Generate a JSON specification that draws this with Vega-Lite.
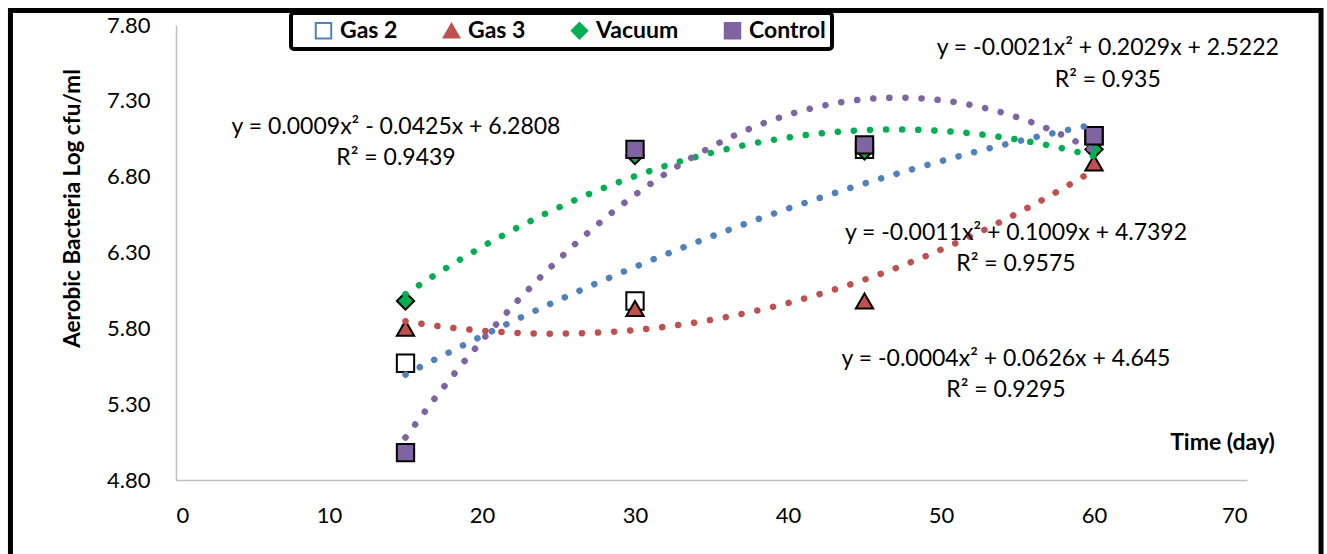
{
  "$schema": "https://vega.github.io/schema/vega-lite/v6.json",
  "width": 1071,
  "height": 455,
  "autosize": {"type": "none"},
  "padding": {"left": 176, "top": 25, "right": 80, "bottom": 74},
  "background": "white",
  "config": {
    "font": "Lato",
    "view": {"stroke": null},
    "mark": {"color": "black"},
    "axis": {"grid": false, "ticks": false, "tickSize": 0, "domainColor": "#BFBFBF", "domainWidth": 1.5, "labelFontSize": 22, "labelColor": "#000000", "titleColor": "#000000", "titleFontWeight": "bold", "titleFontSize": 22.5, "labelFont": "Lato", "titleFont": "Lato"},
    "legend": {"strokeWidth": 4, "strokeColor": "black", "cornerRadius": 3, "padding": 6, "fillColor": "white", "symbolStrokeColor": "black", "symbolStrokeWidth": 2}
  },
  "datasets": {
    "obs": [
      {"day": 15, "value": 5.57, "series": "Gas 2"},
      {"day": 30, "value": 5.98, "series": "Gas 2"},
      {"day": 45, "value": 6.98, "series": "Gas 2"},
      {"day": 60, "value": 7.07, "series": "Gas 2"},
      {"day": 15, "value": 5.80, "series": "Gas 3"},
      {"day": 30, "value": 5.93, "series": "Gas 3"},
      {"day": 45, "value": 5.98, "series": "Gas 3"},
      {"day": 60, "value": 6.89, "series": "Gas 3"},
      {"day": 15, "value": 5.98, "series": "Vacuum"},
      {"day": 30, "value": 6.94, "series": "Vacuum"},
      {"day": 45, "value": 6.97, "series": "Vacuum"},
      {"day": 60, "value": 6.98, "series": "Vacuum"},
      {"day": 15, "value": 4.98, "series": "Control"},
      {"day": 30, "value": 6.98, "series": "Control"},
      {"day": 45, "value": 7.01, "series": "Control"},
      {"day": 60, "value": 7.07, "series": "Control"}
    ],
    "trend": [
      {"day": 15, "value": 5.57, "group": "Gas 2"},
      {"day": 30, "value": 5.98, "group": "Gas 2"},
      {"day": 45, "value": 6.98, "group": "Gas 2"},
      {"day": 60, "value": 7.07, "group": "Gas 2"},
      {"day": 15, "value": 5.80, "group": "Gas 3"},
      {"day": 30, "value": 5.93, "group": "Gas 3"},
      {"day": 45, "value": 5.98, "group": "Gas 3"},
      {"day": 60, "value": 6.89, "group": "Gas 3"},
      {"day": 15, "value": 5.98, "group": "Vacuum"},
      {"day": 30, "value": 6.94, "group": "Vacuum"},
      {"day": 45, "value": 6.97, "group": "Vacuum"},
      {"day": 60, "value": 6.98, "group": "Vacuum"},
      {"day": 15, "value": 4.98, "group": "Control"},
      {"day": 30, "value": 6.98, "group": "Control"},
      {"day": 45, "value": 7.01, "group": "Control"},
      {"day": 60, "value": 7.07, "group": "Control"}
    ],
    "notes": [
      {"x": 14.38, "y": 7.127, "text": "y = 0.0009x² - 0.0425x + 6.2808"},
      {"x": 14.38, "y": 6.923, "text": "R² = 0.9439"},
      {"x": 60.9, "y": 7.648, "text": "y = -0.0021x² + 0.2029x + 2.5222"},
      {"x": 60.9, "y": 7.437, "text": "R² = 0.935"},
      {"x": 54.9, "y": 6.429, "text": "y = -0.0011x² + 0.1009x + 4.7392"},
      {"x": 54.9, "y": 6.224, "text": "R² = 0.9575"},
      {"x": 54.25, "y": 5.598, "text": "y = -0.0004x² + 0.0626x + 4.645"},
      {"x": 54.25, "y": 5.393, "text": "R² = 0.9295"}
    ]
  },
  "layer": [
    {
      "data": {"values": [{}]},
      "mark": {"type": "rect", "filled": false, "stroke": "black", "strokeWidth": 5, "clip": false},
      "encoding": {
        "x": {"datum": -10.82, "type": "quantitative"},
        "x2": {"datum": 74.84},
        "y": {"datum": 7.896, "type": "quantitative"},
        "y2": {"datum": 4.2}
      }
    },
    {
      "data": {"name": "obs"},
      "mark": {"type": "point", "filled": true, "color": "black", "stroke": "black", "strokeWidth": 2, "size": 300, "opacity": 1},
      "encoding": {
        "x": {"field": "day", "type": "quantitative", "scale": {"domain": [0, 70], "nice": false, "zero": false},
          "axis": {"values": [0, 10, 20, 30, 40, 50, 60, 70], "labelPadding": 25, "title": "Time (day)", "titleX": 1046, "titleY": -38, "titleBaseline": "middle", "titleAlign": "center", "titleFontSize": 23}},
        "y": {"field": "value", "type": "quantitative", "scale": {"domain": [4.8, 7.8], "nice": false, "zero": false},
          "axis": {"values": [4.8, 5.3, 5.8, 6.3, 6.8, 7.3, 7.8], "format": ".2f", "labelPadding": 26, "title": "Aerobic Bacteria Log cfu/ml", "titleX": -104, "titleY": 183, "titleBaseline": "middle", "titleAlign": "center", "titleAngle": -90}},
        "fill": {"field": "series", "type": "nominal",
          "scale": {"domain": ["Gas 2", "Gas 3", "Vacuum", "Control"], "range": ["#FFFFFF", "#C0504D", "#00B050", "#8064A2"]},
          "legend": {"title": " ", "titleOrient": "left", "titleFontSize": 23, "titlePadding": 15, "orient": "none", "legendX": 115, "legendY": -12, "direction": "horizontal", "labelFontSize": 23, "labelFontWeight": "bold", "labelColor": "#000000", "symbolSize": 240, "symbolStrokeColor": "black", "symbolStrokeWidth": 2, "columnPadding": 41, "labelOffset": 5, "labelExpr": "datum.label == 'Control' ? datum.label + '    ' : datum.label"}},
        "shape": {"field": "series", "type": "nominal",
          "scale": {"domain": ["Gas 2", "Gas 3", "Vacuum", "Control"], "range": ["square", "triangle-up", "diamond", "square"]},
          "legend": {"title": " ", "titleOrient": "left", "titleFontSize": 23, "titlePadding": 15, "orient": "none", "legendX": 115, "legendY": -12, "direction": "horizontal", "labelFontSize": 23, "labelFontWeight": "bold", "labelColor": "#000000", "symbolSize": 240, "symbolStrokeColor": "black", "symbolStrokeWidth": 2, "columnPadding": 41, "labelOffset": 5, "labelExpr": "datum.label == 'Control' ? datum.label + '    ' : datum.label"}}
      }
    },
    {
      "data": {"name": "trend"},
      "transform": [{"regression": "value", "on": "day", "groupby": ["group"], "method": "poly", "order": 2}],
      "mark": {"type": "line", "strokeWidth": 6.5, "strokeDash": [0.1, 16], "strokeCap": "round"},
      "encoding": {
        "x": {"field": "day", "type": "quantitative"},
        "y": {"field": "value", "type": "quantitative"},
        "stroke": {"field": "group", "type": "nominal",
          "scale": {"domain": ["Gas 2", "Gas 3", "Vacuum", "Control"], "range": ["#4F81BD", "#C0504D", "#00B050", "#8064A2"]},
          "legend": null}
      }
    },
    {
      "data": {"name": "notes"},
      "mark": {"type": "text", "fontSize": 23, "align": "center", "baseline": "middle", "color": "#000000", "font": "Lato"},
      "encoding": {
        "x": {"field": "x", "type": "quantitative"},
        "y": {"field": "y", "type": "quantitative"},
        "text": {"field": "text"}
      }
    }
  ]
}
